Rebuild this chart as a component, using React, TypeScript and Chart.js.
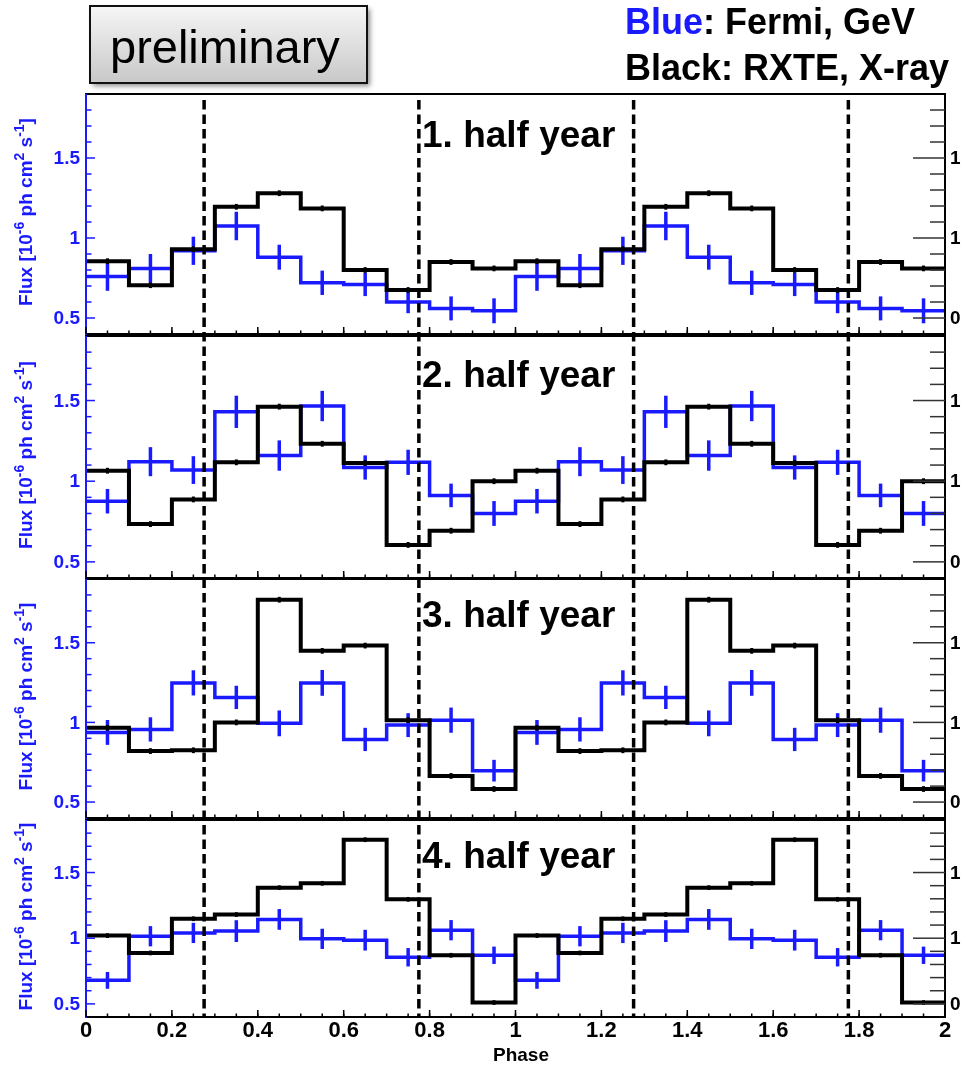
import { useEffect, useRef } from 'react';
import { Chart, registerables } from 'chart.js';

Chart.register(...registerables);

// ---- data -------------------------------------------------------------
// Bin edges in orbital phase (two cycles, 0.1 wide bins)
const PHASE_EDGES = [0, 0.1, 0.2, 0.3, 0.4, 0.5, 0.6, 0.7, 0.8, 0.9, 1.0, 1.1, 1.2, 1.3, 1.4, 1.5, 1.6, 1.7, 1.8, 1.9, 2.0];

// Folded light curves for one cycle (phase 0.0 - 1.0), repeated for phase 1.0 - 2.0
const FERMI_H1 = [0.76, 0.81, 0.92, 1.075, 0.88, 0.72, 0.71, 0.6, 0.56, 0.545];
const FERMI_H1_ERR = [0.09, 0.09, 0.088, 0.089, 0.078, 0.076, 0.073, 0.07, 0.075, 0.078];
const RXTE_H1 = [0.855, 0.705, 0.93, 1.195, 1.28, 1.185, 0.8, 0.675, 0.85, 0.81];

const FERMI_H2 = [0.876, 1.121, 1.069, 1.43, 1.159, 1.466, 1.085, 1.117, 0.912, 0.8];
const FERMI_H2_ERR = [0.076, 0.09, 0.086, 0.1, 0.094, 0.094, 0.075, 0.078, 0.073, 0.077];
const RXTE_H2 = [1.065, 0.734, 0.887, 1.117, 1.462, 1.232, 1.113, 0.605, 0.693, 1.0];

const FERMI_H3 = [0.937, 0.956, 1.248, 1.157, 0.994, 1.248, 0.893, 0.983, 1.014, 0.697];
const FERMI_H3_ERR = [0.078, 0.076, 0.079, 0.073, 0.081, 0.081, 0.073, 0.075, 0.079, 0.068];
const RXTE_H3 = [0.966, 0.82, 0.825, 1.0, 1.77, 1.449, 1.482, 1.014, 0.664, 0.582];

const FERMI_H4 = [0.679, 1.015, 1.04, 1.054, 1.143, 0.995, 0.985, 0.855, 1.061, 0.87];
const FERMI_H4_ERR = [0.064, 0.077, 0.077, 0.083, 0.079, 0.077, 0.079, 0.07, 0.077, 0.066];
const RXTE_H4 = [1.02, 0.888, 1.148, 1.18, 1.385, 1.418, 1.75, 1.296, 0.87, 0.51];

const RXTE_ERR = [0.018, 0.018, 0.018, 0.018, 0.018, 0.018, 0.018, 0.018, 0.018, 0.018];

const PANEL_TITLES = ['1. half year', '2. half year', '3. half year', '4. half year'];

// Marker phases (dashed vertical lines)
const MARKER_PHASES = [0.275, 0.775, 1.275, 1.775];

// Axis ticks
const X_MAJOR = [0, 0.2, 0.4, 0.6, 0.8, 1.0, 1.2, 1.4, 1.6, 1.8, 2.0];
const X_TICK_LABELS = ['0', '0.2', '0.4', '0.6', '0.8', '1', '1.2', '1.4', '1.6', '1.8', '2'];
const Y_MAJOR = [0.5, 1, 1.5];
const Y_TICK_LABELS = ['0.5', '1', '1.5'];
const Y_MINOR = [0.6, 0.7, 0.8, 0.9, 1.1, 1.2, 1.3, 1.4, 1.6, 1.7, 1.8];
const Y2_TICK_LABELS = ['0', '1', '1'];

// ---- styling ----------------------------------------------------------
const W = 962;
const PLOT_LEFT = 86;
const PLOT_RIGHT = 945;
const Y_MIN = 0.4;
const Y_MAX = 1.9;
const BLUE = '#1a1aff';
const FONT = '"Liberation Sans", Arial, Helvetica, sans-serif';

type PanelSpec = {
  canvasTop: number;
  canvasHeight: number;
  plotTop: number;
  plotBottom: number;
  title: string;
  titleBaseline: number;
  fermi: number[];
  fermiErr: number[];
  rxte: number[];
  showXLabels: boolean;
  showHeader: boolean;
};

const PANELS: PanelSpec[] = [
  { canvasTop: 0, canvasHeight: 336, plotTop: 94, plotBottom: 334, title: PANEL_TITLES[0], titleBaseline: 147, fermi: FERMI_H1, fermiErr: FERMI_H1_ERR, rxte: RXTE_H1, showXLabels: false, showHeader: true },
  { canvasTop: 334, canvasHeight: 246, plotTop: 336, plotBottom: 578, title: PANEL_TITLES[1], titleBaseline: 387, fermi: FERMI_H2, fermiErr: FERMI_H2_ERR, rxte: RXTE_H2, showXLabels: false, showHeader: false },
  { canvasTop: 577, canvasHeight: 243, plotTop: 579, plotBottom: 818, title: PANEL_TITLES[2], titleBaseline: 627, fermi: FERMI_H3, fermiErr: FERMI_H3_ERR, rxte: RXTE_H3, showXLabels: false, showHeader: false },
  { canvasTop: 816, canvasHeight: 251, plotTop: 820, plotBottom: 1017, title: PANEL_TITLES[3], titleBaseline: 868, fermi: FERMI_H4, fermiErr: FERMI_H4_ERR, rxte: RXTE_H4, showXLabels: true, showHeader: false },
];

const twoCycles = (v: number[]) => [...v, ...v];

// histogram steps: one point per lower bin edge, plus the closing edge
function stepPoints(values: number[]) {
  const full = twoCycles(values);
  const pts = full.map((y, i) => ({ x: PHASE_EDGES[i], y }));
  pts.push({ x: PHASE_EDGES[PHASE_EDGES.length - 1], y: full[full.length - 1] });
  return pts;
}

function line(ctx: CanvasRenderingContext2D, x1: number, y1: number, x2: number, y2: number) {
  ctx.beginPath();
  ctx.moveTo(x1, y1);
  ctx.lineTo(x2, y2);
  ctx.stroke();
}

function drawErrorBars(chart: Chart, values: number[], errors: number[], color: string, width: number) {
  const { ctx, chartArea } = chart;
  const xs = chart.scales.x;
  const ys = chart.scales.y;
  const vals = twoCycles(values);
  const errs = twoCycles(errors);
  ctx.save();
  ctx.beginPath();
  ctx.rect(chartArea.left, chartArea.top, chartArea.right - chartArea.left, chartArea.bottom - chartArea.top);
  ctx.clip();
  ctx.strokeStyle = color;
  ctx.lineWidth = width;
  ctx.lineCap = 'butt';
  for (let i = 0; i < vals.length; i++) {
    const xc = xs.getPixelForValue((PHASE_EDGES[i] + PHASE_EDGES[i + 1]) / 2);
    line(ctx, xc, ys.getPixelForValue(vals[i] - errs[i]), xc, ys.getPixelForValue(vals[i] + errs[i]));
  }
  ctx.restore();
}

function drawYTitle(ctx: CanvasRenderingContext2D, baseX: number, centerY: number) {
  const parts: [string, boolean][] = [
    ['Flux [10', false], ['-6', true], [' ph cm', false], ['2', true], [' s', false], ['-1', true], [']', false],
  ];
  const mainFont = `bold 19px ${FONT}`;
  const supFont = `bold 14px ${FONT}`;
  let total = 0;
  for (const [t, sup] of parts) {
    ctx.font = sup ? supFont : mainFont;
    total += ctx.measureText(t).width;
  }
  ctx.save();
  ctx.translate(baseX, centerY);
  ctx.rotate(-Math.PI / 2);
  ctx.fillStyle = BLUE;
  ctx.textAlign = 'left';
  ctx.textBaseline = 'alphabetic';
  let u = -total / 2;
  for (const [t, sup] of parts) {
    ctx.font = sup ? supFont : mainFont;
    ctx.fillText(t, u, sup ? -7.5 : 0);
    u += ctx.measureText(t).width;
  }
  ctx.restore();
}

function drawHeader(ctx: CanvasRenderingContext2D) {
  // "preliminary" badge
  ctx.save();
  ctx.shadowColor = 'rgba(0,0,0,0.45)';
  ctx.shadowBlur = 5;
  ctx.shadowOffsetX = 3;
  ctx.shadowOffsetY = 3;
  const g = ctx.createLinearGradient(0, 6, 0, 83);
  g.addColorStop(0, '#f6f6f6');
  g.addColorStop(1, '#c8c8c8');
  ctx.fillStyle = g;
  ctx.fillRect(90, 6, 277, 77);
  ctx.restore();
  ctx.save();
  ctx.strokeStyle = '#111';
  ctx.lineWidth = 2;
  ctx.strokeRect(90, 6, 277, 77);
  ctx.fillStyle = '#000';
  ctx.font = `47px ${FONT}`;
  ctx.textBaseline = 'alphabetic';
  ctx.textAlign = 'left';
  ctx.fillText('preliminary', 110, 63);

  // colour key
  ctx.font = `bold 36px ${FONT}`;
  ctx.fillStyle = BLUE;
  ctx.fillText('Blue', 625, 34);
  const wBlue = ctx.measureText('Blue').width;
  ctx.fillStyle = '#000';
  ctx.fillText(': Fermi, GeV', 625 + wBlue, 34);
  ctx.fillText('Black: RXTE, X-ray', 625, 80);
  ctx.restore();
}

function makePanelPlugin(spec: PanelSpec) {
  return {
    id: 'panelDecor',
    beforeDatasetsDraw(chart: Chart) {
      drawErrorBars(chart, spec.fermi, spec.fermiErr, BLUE, 3.5);
    },
    afterDatasetsDraw(chart: Chart) {
      drawErrorBars(chart, spec.rxte, RXTE_ERR, '#000', 3);
      const { ctx, chartArea } = chart;
      const xs = chart.scales.x;
      ctx.save();
      ctx.strokeStyle = '#000';
      ctx.lineWidth = 3.5;
      ctx.setLineDash([9.5, 5]);
      const period = 14.5;
      ctx.lineDashOffset = (((spec.plotTop - 99) % period) + period) % period;
      for (const p of MARKER_PHASES) {
        const x = xs.getPixelForValue(p);
        line(ctx, x, chartArea.top + 1, x, chartArea.bottom);
      }
      ctx.restore();
    },
    afterDraw(chart: Chart) {
      const { ctx, chartArea } = chart;
      const { left, right, top, bottom } = chartArea;
      const xs = chart.scales.x;
      const ys = chart.scales.y;
      ctx.save();
      ctx.lineCap = 'butt';

      // frame
      ctx.lineWidth = 2;
      ctx.strokeStyle = '#000';
      line(ctx, left - 1, top, right + 1, top);
      line(ctx, right, top, right, bottom);
      line(ctx, left - 1, bottom, right + 1, bottom);
      ctx.strokeStyle = BLUE;
      line(ctx, left, top, left, bottom + 1);

      // left (Fermi) axis ticks
      ctx.lineWidth = 1.5;
      ctx.strokeStyle = BLUE;
      for (const v of Y_MAJOR) { const y = ys.getPixelForValue(v); line(ctx, left, y, left + 9, y); }
      for (const v of Y_MINOR) { const y = ys.getPixelForValue(v); line(ctx, left, y, left + 5.5, y); }

      // right (RXTE) axis ticks
      ctx.strokeStyle = '#333';
      for (const v of Y_MAJOR) { const y = ys.getPixelForValue(v); line(ctx, right, y, right - 32, y); }
      for (const v of Y_MINOR) { const y = ys.getPixelForValue(v); line(ctx, right, y, right - 15, y); }

      // phase axis ticks
      ctx.strokeStyle = '#000';
      for (let k = 1; k < 40; k++) {
        const x = xs.getPixelForValue(k * 0.05);
        line(ctx, x, bottom, x, bottom - 3.5);
      }
      for (const v of X_MAJOR) { const x = xs.getPixelForValue(v); line(ctx, x, bottom, x, bottom - 7); }

      // tick labels
      ctx.textBaseline = 'middle';
      ctx.font = `bold 19px ${FONT}`;
      ctx.fillStyle = BLUE;
      ctx.textAlign = 'right';
      Y_MAJOR.forEach((v, i) => ctx.fillText(Y_TICK_LABELS[i], 80, ys.getPixelForValue(v) + 1));
      ctx.fillStyle = '#000';
      ctx.textAlign = 'left';
      Y_MAJOR.forEach((v, i) => ctx.fillText(Y2_TICK_LABELS[i], 950, ys.getPixelForValue(v) + 1));

      drawYTitle(ctx, 31.5, (top + bottom) / 2 - 2);

      // panel title
      ctx.textBaseline = 'alphabetic';
      ctx.textAlign = 'left';
      ctx.font = `bold 37px ${FONT}`;
      ctx.fillStyle = '#000';
      ctx.fillText(spec.title, 422, spec.titleBaseline - spec.canvasTop);

      if (spec.showXLabels) {
        ctx.font = `bold 22px ${FONT}`;
        ctx.textAlign = 'center';
        X_MAJOR.forEach((v, i) => ctx.fillText(X_TICK_LABELS[i], xs.getPixelForValue(v), 1037 - spec.canvasTop));
        ctx.font = `bold 19px ${FONT}`;
        ctx.fillText('Phase', 521, 1061 - spec.canvasTop);
      }
      ctx.restore();

      if (spec.showHeader) drawHeader(ctx);
    },
  };
}

function Panel({ spec }: { spec: PanelSpec }) {
  const ref = useRef<HTMLCanvasElement>(null);
  useEffect(() => {
    const canvas = ref.current;
    if (!canvas) return;
    const chart = new Chart(canvas, {
      type: 'line',
      data: {
        datasets: [
          {
            label: 'RXTE',
            data: stepPoints(spec.rxte),
            borderColor: '#000',
            borderWidth: 4,
            stepped: 'before',
            pointRadius: 0,
            fill: false,
            borderJoinStyle: 'miter',
            borderCapStyle: 'butt',
          },
          {
            label: 'Fermi',
            data: stepPoints(spec.fermi),
            borderColor: BLUE,
            borderWidth: 3.5,
            stepped: 'before',
            pointRadius: 0,
            fill: false,
            borderJoinStyle: 'miter',
            borderCapStyle: 'butt',
          },
        ],
      },
      options: {
        animation: false,
        responsive: false,
        devicePixelRatio: 1,
        events: [],
        layout: {
          padding: {
            left: PLOT_LEFT,
            right: W - PLOT_RIGHT,
            top: spec.plotTop - spec.canvasTop,
            bottom: spec.canvasTop + spec.canvasHeight - spec.plotBottom,
          },
        },
        scales: {
          x: { type: 'linear', min: 0, max: 2, display: false },
          y: { type: 'linear', min: Y_MIN, max: Y_MAX, display: false },
        },
        plugins: { legend: { display: false }, tooltip: { enabled: false } },
      },
      plugins: [makePanelPlugin(spec)],
    } as any);
    return () => chart.destroy();
  }, [spec]);
  return (
    <canvas
      ref={ref}
      width={W}
      height={spec.canvasHeight}
      style={{ position: 'absolute', left: 0, top: spec.canvasTop, width: W, height: spec.canvasHeight, display: 'block' }}
    />
  );
}

export default function App() {
  return (
    <div style={{ position: 'absolute', left: 0, top: 0, width: W, height: 1067, background: '#fff', overflow: 'hidden' }}>
      {PANELS.map((p, i) => (
        <Panel key={i} spec={p} />
      ))}
    </div>
  );
}
